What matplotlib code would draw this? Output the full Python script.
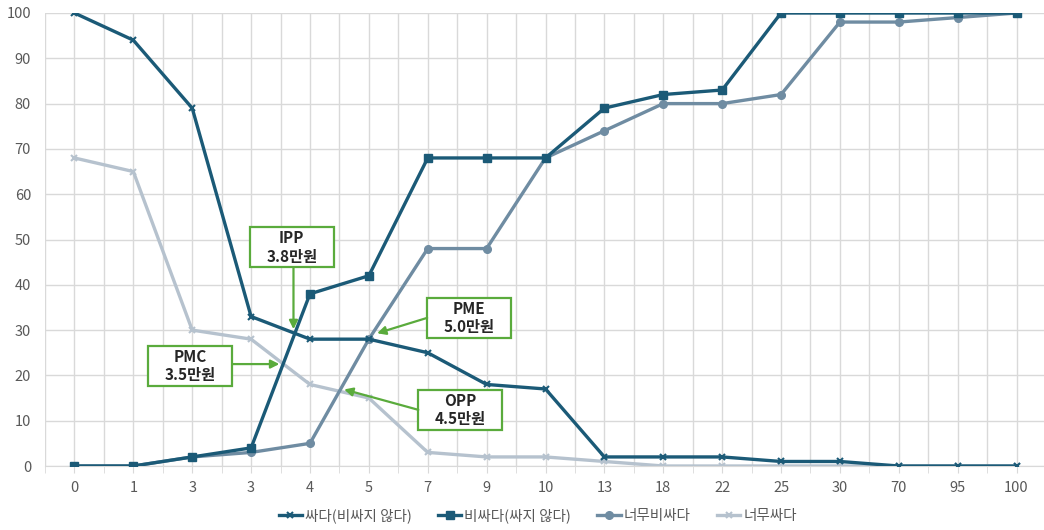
import matplotlib
matplotlib.use("Agg")
import matplotlib.pyplot as plt
from matplotlib.patches import Rectangle
from matplotlib.ticker import MultipleLocator, FixedLocator

plt.rcParams['font.family'] = ['Noto Sans CJK KR', 'DejaVu Sans']

categories = ['0', '1', '3', '3', '4', '5', '7', '9', '10', '13', '18', '22', '25', '30', '70', '95', '100']
cheap = [100, 94, 79, 33, 28, 28, 25, 18, 17, 2, 2, 2, 1, 1, 0, 0, 0]
expensive = [0, 0, 2, 4, 38, 42, 68, 68, 68, 79, 82, 83, 100, 100, 100, 100, 100]
too_expensive = [0, 0, 2, 3, 5, 28, 48, 48, 68, 74, 80, 80, 82, 98, 98, 99, 100]
too_cheap = [68, 65, 30, 28, 18, 15, 3, 2, 2, 1, 0, 0, 0, 0, 0, 0, 0]
series_names = ['싸다(비싸지 않다)', '비싸다(싸지 않다)', '너무비싸다', '너무싸다']

annotations = [
    ('IPP\n3.8만원', (3.69, 48.3), (3.72, 43.7), (3.72, 30.2)),
    ('PMC\n3.5만원', (1.97, 22.1), (2.68, 22.5), (3.48, 22.5)),
    ('PME\n5.0만원', (6.70, 32.7), (5.99, 32.7), (5.14, 29.3)),
    ('OPP\n4.5만원', (6.55, 12.4), (5.84, 12.4), (4.58, 16.9)),
]

fig = plt.figure(figsize=(10.44, 5.30), dpi=100)
ax = fig.add_axes([45 / 1044, 64 / 530, 1001 / 1044, 453 / 530])

x = list(range(len(categories)))
dark = '#1b5a77'
mid = '#6f8ca2'
light = '#b6c2ce'

ax.plot(x, cheap, color=dark, lw=2.4, marker='x', ms=5, mew=1.5, label=series_names[0], zorder=4)
ax.plot(x, expensive, color=dark, lw=2.4, marker='s', ms=6, label=series_names[1], zorder=4)
ax.plot(x, too_expensive, color=mid, lw=2.4, marker='o', ms=5.5, label=series_names[2], zorder=3)
ax.plot(x, too_cheap, color=light, lw=2.4, marker='x', ms=5, mew=1.5, label=series_names[3], zorder=2)

ax.set_xlim(-0.5, len(categories) - 0.5)
ax.set_ylim(0, 100)
ax.xaxis.set_major_locator(FixedLocator(x))
ax.set_xticklabels(categories)
ax.xaxis.set_minor_locator(MultipleLocator(0.5))
ax.yaxis.set_major_locator(MultipleLocator(10))

grid_c = '#d9d9d9'
ax.grid(True, which='major', axis='both', color=grid_c, lw=1)
ax.grid(True, which='minor', axis='x', color=grid_c, lw=1)
for s in ['top', 'right', 'left']:
    ax.spines[s].set_visible(False)
ax.spines['bottom'].set_color(grid_c)
ax.tick_params(axis='x', which='both', length=5, color=grid_c, labelsize=10.5, labelcolor='#595959', pad=6)
ax.tick_params(axis='y', length=0, labelsize=10.5, labelcolor='#595959', pad=10)

green = '#5aab3c'
bw, bh = 84 / 58.94, 40 / 4.53
for text, (cx, cy), start, end in annotations:
    ax.add_patch(Rectangle((cx - bw / 2, cy - bh / 2), bw, bh, facecolor='white',
                           edgecolor=green, lw=1.6, zorder=6))
    ax.text(cx, cy, text, ha='center', va='center', fontsize=11, fontweight='bold',
            color='#262626', linespacing=1.2, zorder=7)
    ax.annotate('', xy=end, xytext=start,
                arrowprops=dict(arrowstyle='-|>,head_length=0.5,head_width=0.25',
                                color=green, lw=1.6, shrinkA=0, shrinkB=0), zorder=6)

leg = fig.legend(loc='center', bbox_to_anchor=(0.515, 14 / 530), ncol=4, frameon=False,
                 fontsize=10.5, handlelength=1.6, columnspacing=1.8, handletextpad=0.2)
for t in leg.get_texts():
    t.set_color('#595959')

fig.savefig('out.png', dpi=100)
